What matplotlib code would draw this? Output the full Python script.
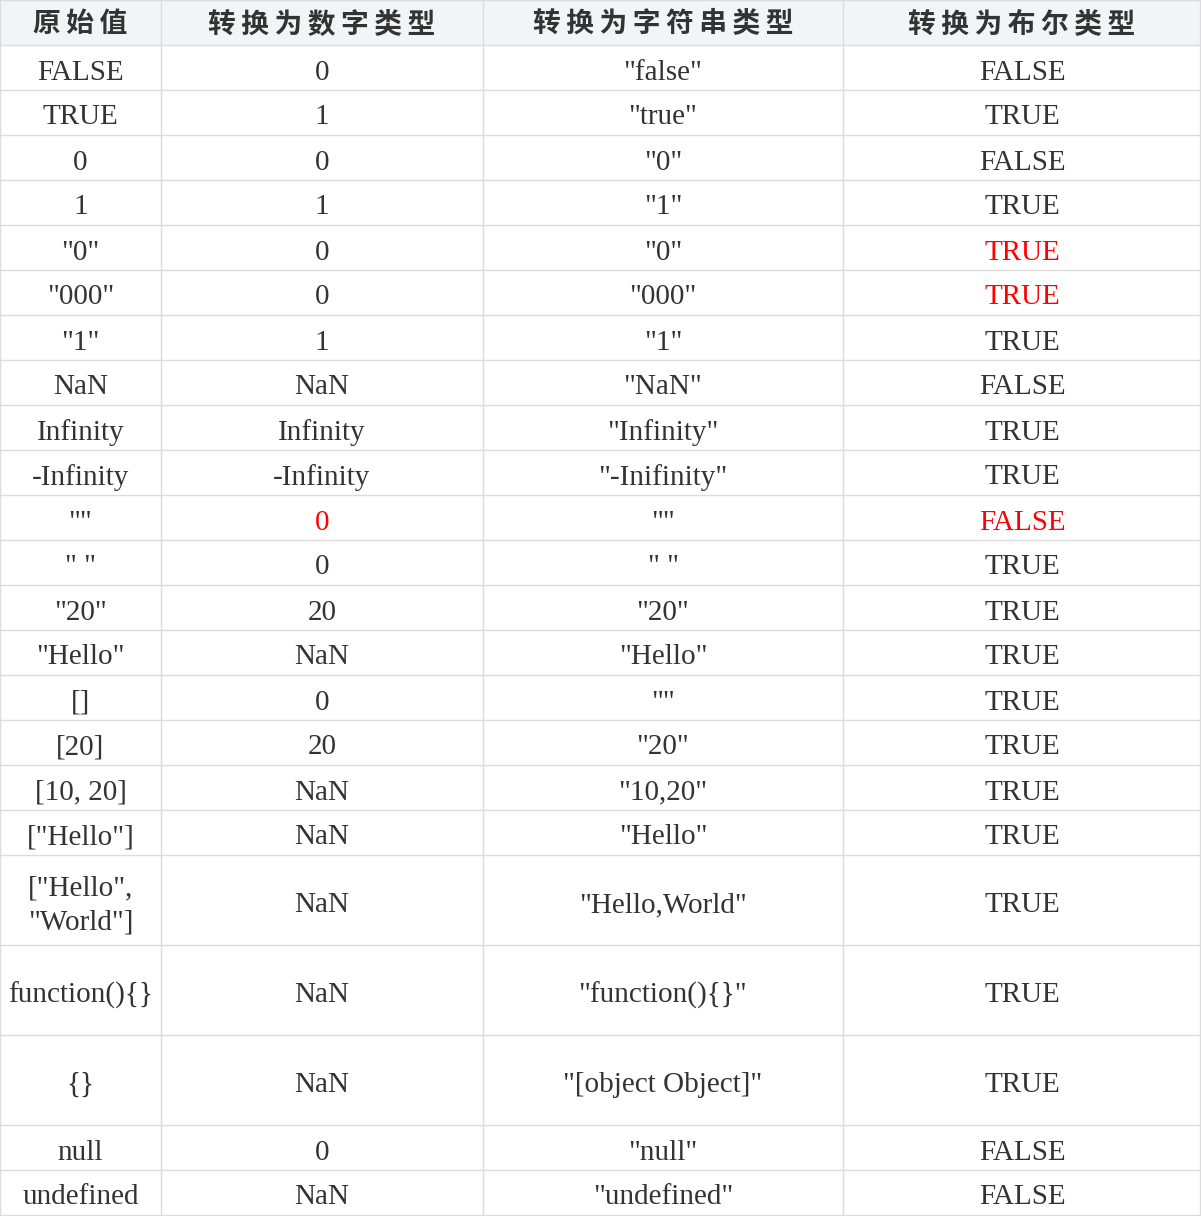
import matplotlib.pyplot as plt
from matplotlib.patches import Rectangle

headers = ['原始值', '转换为数字类型', '转换为字符串类型', '转换为布尔类型']
raw = ['FALSE', 'TRUE', '0', '1', '"0"', '"000"', '"1"', 'NaN', 'Infinity', '-Infinity',
       '""', '" "', '"20"', '"Hello"', '[]', '[20]', '[10, 20]', '["Hello"]',
       '["Hello",\n"World"]', 'function(){}', '{}', 'null', 'undefined']
to_num = ['0', '1', '0', '1', '0', '0', '1', 'NaN', 'Infinity', '-Infinity',
          '0', '0', '20', 'NaN', '0', '20', 'NaN', 'NaN', 'NaN', 'NaN', 'NaN', '0', 'NaN']
to_str = ['"false"', '"true"', '"0"', '"1"', '"0"', '"000"', '"1"', '"NaN"', '"Infinity"',
          '"-Inifinity"', '""', '" "', '"20"', '"Hello"', '""', '"20"', '"10,20"', '"Hello"',
          '"Hello,World"', '"function(){}"', '"[object Object]"', '"null"', '"undefined"']
to_bool = ['FALSE', 'TRUE', 'FALSE', 'TRUE', 'TRUE', 'TRUE', 'TRUE', 'FALSE', 'TRUE', 'TRUE',
           'FALSE', 'TRUE', 'TRUE', 'TRUE', 'TRUE', 'TRUE', 'TRUE', 'TRUE', 'TRUE', 'TRUE',
           'TRUE', 'FALSE', 'FALSE']
red_cells = {(4, 3), (5, 3), (10, 1), (10, 3)}

# layout in pixels
col_edges = [0, 161, 483, 843, 1201]
header_h = 45
row_h = [45] * 18 + [90, 90, 90, 45, 45]

W, H = 1201, 1216
fig = plt.figure(figsize=(W / 100, H / 100), dpi=100)
ax = fig.add_axes([0, 0, 1, 1])
ax.set_xlim(0, W)
ax.set_ylim(H, 0)
ax.axis('off')

line_c = '#dcdcdc'
text_c = '#333333'

ax.add_patch(Rectangle((0, 0), W, header_h, color='#f3f4f8', zorder=0))
for j, h in enumerate(headers):
    cx = (col_edges[j] + col_edges[j + 1]) / 2
    ax.text(cx, header_h / 2 + 2, '\u2009'.join(h), ha='center', va='center', fontsize=20,
            fontweight='bold', color='#333333', family=['Noto Sans CJK SC', 'DejaVu Sans'])

cols = [raw, to_num, to_str, to_bool]
y = header_h
row_tops = []
for i, h in enumerate(row_h):
    row_tops.append(y)
    for j in range(4):
        cx = (col_edges[j] + col_edges[j + 1]) / 2
        col = 'red' if (i, j) in red_cells else text_c
        ax.text(cx, y + h / 2 + 5, cols[j][i], ha='center', va='center', fontsize=21,
                color=col, family='Liberation Serif', linespacing=1.4)
    y += h
bottom = y

for yy in [0, header_h] + [t + h for t, h in zip(row_tops, row_h)]:
    ax.plot([0, col_edges[-1] - 1], [yy, yy], color=line_c, lw=1)
for xx in col_edges:
    xx = min(xx, W - 1)
    ax.plot([xx, xx], [0, bottom], color=line_c, lw=1)

fig.savefig('out.png', dpi=100)
